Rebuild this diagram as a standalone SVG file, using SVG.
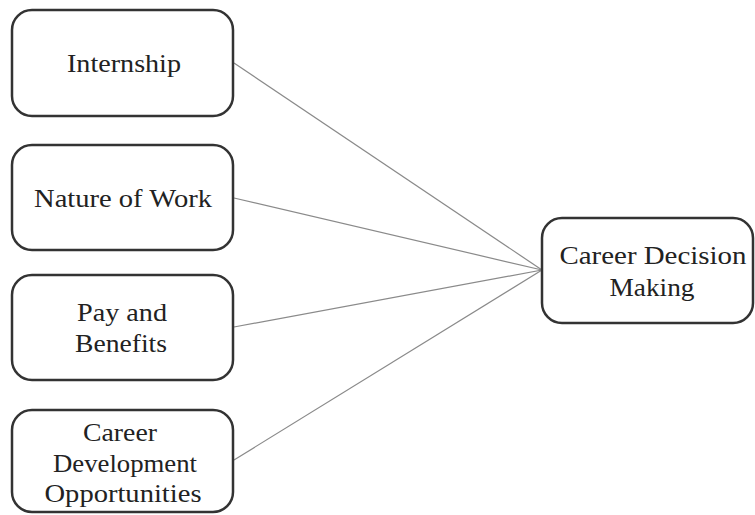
<svg xmlns="http://www.w3.org/2000/svg" width="755" height="515" viewBox="0 0 755 515">
  <style>
    .box { fill: #ffffff; stroke: #333333; stroke-width: 2.5; }
    .label { font-family: "Liberation Serif", "Times New Roman", serif; font-size: 25px; fill: #222222; text-anchor: middle; }
    .link { stroke: #8a8a8a; stroke-width: 1.2; fill: none; }
  </style>
  <rect width="755" height="515" fill="#ffffff"/>

  <g id="connectors">
    <line class="link" x1="234" y1="63" x2="542" y2="270"/>
    <line class="link" x1="234" y1="198" x2="542" y2="270"/>
    <line class="link" x1="234" y1="327" x2="542" y2="270"/>
    <line class="link" x1="234" y1="460" x2="542" y2="270"/>
  </g>

  <g id="internship">
    <rect class="box" x="12" y="10" width="221" height="106" rx="20"/>
    <text class="label" x="124" y="72" textLength="114" lengthAdjust="spacingAndGlyphs">Internship</text>
  </g>

  <g id="nature-of-work">
    <rect class="box" x="12" y="145" width="221" height="105" rx="20"/>
    <text class="label" x="123" y="207" textLength="178" lengthAdjust="spacingAndGlyphs">Nature of Work</text>
  </g>

  <g id="pay-and-benefits">
    <rect class="box" x="12" y="275" width="221" height="105" rx="20"/>
    <text class="label" x="122" y="321" textLength="90" lengthAdjust="spacingAndGlyphs">Pay and</text>
    <text class="label" x="121" y="352" textLength="92" lengthAdjust="spacingAndGlyphs">Benefits</text>
  </g>

  <g id="career-development">
    <rect class="box" x="12" y="410" width="221" height="102" rx="20"/>
    <text class="label" x="120" y="441" textLength="74" lengthAdjust="spacingAndGlyphs">Career</text>
    <text class="label" x="125" y="472" textLength="144" lengthAdjust="spacingAndGlyphs">Development</text>
    <text class="label" x="123" y="502" textLength="157" lengthAdjust="spacingAndGlyphs">Opportunities</text>
  </g>

  <g id="career-decision-making">
    <rect class="box" x="542" y="218" width="211" height="105" rx="20"/>
    <text class="label" x="653" y="264" textLength="187" lengthAdjust="spacingAndGlyphs">Career Decision</text>
    <text class="label" x="652" y="296" textLength="85" lengthAdjust="spacingAndGlyphs">Making</text>
  </g>
</svg>
